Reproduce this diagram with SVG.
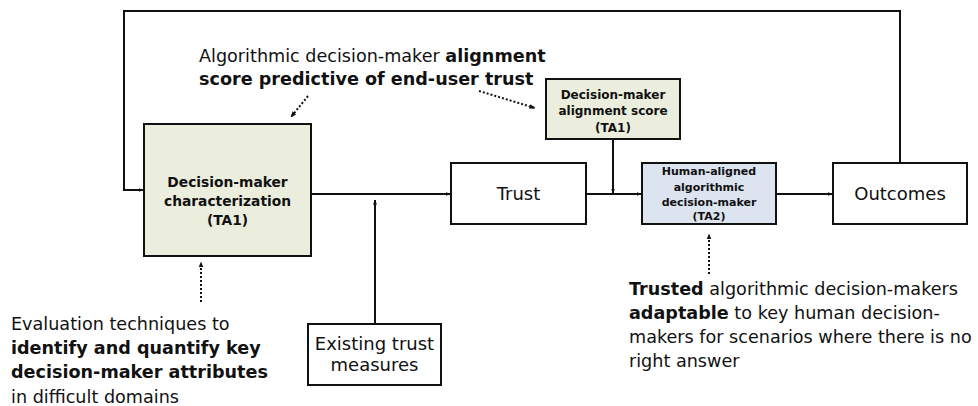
<svg xmlns="http://www.w3.org/2000/svg" width="978" height="406" viewBox="0 0 978 406">
  <defs>
    <marker id="arr" viewBox="0 0 10 10" refX="9" refY="5" markerWidth="5" markerHeight="5" orient="auto" markerUnits="userSpaceOnUse">
      <path d="M0,1 L10,5 L0,9 z" fill="#111"/>
    </marker>
    <marker id="arrs" viewBox="0 0 10 10" refX="9" refY="5" markerWidth="6" markerHeight="6" orient="auto" markerUnits="userSpaceOnUse">
      <path d="M0,1 L10,5 L0,9 z" fill="#111"/>
    </marker>
  </defs>
  <style>
    .box { stroke: #111; stroke-width: 2; }
    .plain { fill: #fff; }
    .ta1 { fill: #ebeedd; }
    .ta2 { fill: #dce4f0; }
    .wire { fill: none; stroke: #111; stroke-width: 2; }
    .dot { fill: none; stroke: #111; stroke-width: 2; stroke-dasharray: 2 2; }
    text { font-family: "DejaVu Sans", Verdana, sans-serif; fill: #111; }
    .lbl { font-weight: bold; text-anchor: middle; }
    .big { font-size: 18px; text-anchor: middle; }
    .note { font-size: 17.6px; }
    .b { font-weight: bold; }
  </style>
  <rect width="978" height="406" fill="#fff"/>

  <!-- connectors -->
  <g id="connectors">
    <path class="wire" d="M900,163 V11 H124 V190 H143" marker-end="url(#arr)"/>
    <line class="wire" x1="311" y1="194" x2="450" y2="194" marker-end="url(#arr)"/>
    <line class="wire" x1="375" y1="324" x2="375" y2="200" marker-end="url(#arr)"/>
    <line class="wire" x1="586" y1="194" x2="641" y2="194" marker-end="url(#arr)"/>
    <line class="wire" x1="613" y1="139" x2="613" y2="193" marker-end="url(#arr)"/>
    <line class="wire" x1="776" y1="194" x2="832" y2="194" marker-end="url(#arr)"/>
    <line class="dot" x1="308" y1="96" x2="291" y2="117" marker-end="url(#arrs)"/>
    <line class="dot" x1="479" y1="91" x2="535" y2="108" marker-end="url(#arrs)"/>
    <line class="dot" x1="201" y1="302" x2="201" y2="262" marker-end="url(#arrs)"/>
    <line class="dot" x1="709" y1="274" x2="709" y2="234" marker-end="url(#arrs)"/>
  </g>

  <g id="characterization">
    <rect class="box ta1" x="144" y="124" width="167" height="132"/>
    <text class="lbl" font-size="13.8" x="227.5" y="187">Decision-maker</text>
    <text class="lbl" font-size="13.8" x="227.5" y="206">characterization</text>
    <text class="lbl" font-size="13.8" x="227.5" y="225">(TA1)</text>
  </g>

  <g id="trust">
    <rect class="box plain" x="451" y="163" width="135" height="61"/>
    <text class="big" x="518.5" y="200">Trust</text>
  </g>

  <g id="alignment-score">
    <rect class="box ta1" x="546" y="79" width="134" height="60"/>
    <text class="lbl" font-size="12" x="613" y="98.5">Decision-maker</text>
    <text class="lbl" font-size="12" x="613" y="115">alignment score</text>
    <text class="lbl" font-size="12" x="613" y="132">(TA1)</text>
  </g>

  <g id="human-aligned">
    <rect class="box ta2" x="642" y="163" width="134" height="61"/>
    <text class="lbl" font-size="11" x="709" y="175">Human-aligned</text>
    <text class="lbl" font-size="11" x="709" y="191">algorithmic</text>
    <text class="lbl" font-size="11" x="709" y="205.5">decision-maker</text>
    <text class="lbl" font-size="11" x="709" y="220">(TA2)</text>
  </g>

  <g id="outcomes">
    <rect class="box plain" x="833" y="163" width="134" height="61"/>
    <text class="big" x="900" y="200">Outcomes</text>
  </g>

  <g id="existing-trust">
    <rect class="box plain" x="308" y="324" width="133" height="61"/>
    <text class="big" font-size="14" x="374.5" y="350">Existing trust</text>
    <text class="big" font-size="14" x="374.5" y="371">measures</text>
  </g>

  <g id="note-alignment">
    <text class="note" x="199" y="62">Algorithmic decision-maker <tspan class="b">alignment</tspan></text>
    <text class="note b" x="199" y="85">score predictive of end-user trust</text>
  </g>

  <g id="note-evaluation">
    <text class="note" x="11" y="330">Evaluation techniques to</text>
    <text class="note b" x="11" y="354">identify and quantify key</text>
    <text class="note b" x="11" y="378">decision-maker attributes</text>
    <text class="note" x="11" y="402.5">in difficult domains</text>
  </g>

  <g id="note-trusted">
    <text class="note" x="629" y="295"><tspan class="b">Trusted</tspan> algorithmic decision-makers</text>
    <text class="note" x="629" y="319"><tspan class="b">adaptable</tspan> to key human decision-</text>
    <text class="note" x="629" y="343">makers for scenarios where there is no</text>
    <text class="note" x="629" y="367">right answer</text>
  </g>
</svg>
